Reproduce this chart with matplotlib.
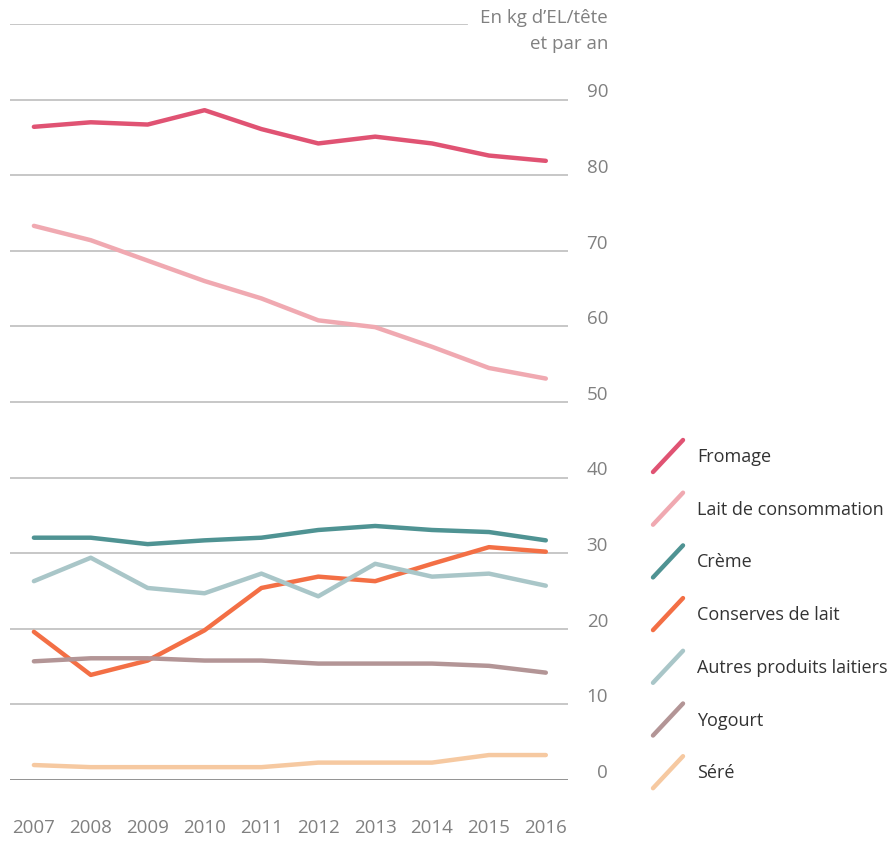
import numpy as np
import matplotlib
matplotlib.use('Agg')
from matplotlib import pyplot as plt
from matplotlib.lines import Line2D
from matplotlib.transforms import blended_transform_factory

years = np.arange(2007, 2017)
fromage = [86.4, 87.0, 86.7, 88.6, 86.1, 84.2, 85.1, 84.2, 82.6, 81.9]
lait = [73.3, 71.4, 68.7, 66.0, 63.7, 60.8, 59.9, 57.3, 54.5, 53.1]
creme = [32.05, 32.05, 31.2, 31.7, 32.05, 33.07, 33.6, 33.07, 32.8, 31.7]
conserves = [19.6, 13.9, 15.8, 19.8, 25.4, 26.9, 26.3, 28.6, 30.8, 30.2]
autres = [26.3, 29.4, 25.4, 24.7, 27.3, 24.3, 28.6, 26.9, 27.3, 25.7]
yogourt = [15.7, 16.1, 16.1, 15.8, 15.8, 15.4, 15.4, 15.4, 15.1, 14.2]
sere = [1.98, 1.7, 1.7, 1.7, 1.7, 2.3, 2.3, 2.3, 3.3, 3.3]

names = ['Fromage', 'Lait de consommation', 'Crème', 'Conserves de lait',
         'Autres produits laitiers', 'Yogourt', 'Séré']
series = [fromage, lait, creme, conserves, autres, yogourt, sere]
colors = ['#e05373', '#f0a9b1', '#4f9393', '#f36f45', '#a9c6c8', '#b39596', '#f6c9a1']
yticks = [0, 10, 20, 30, 40, 50, 60, 70, 80, 90]

plt.rcParams['font.family'] = ['Open Sans', 'DejaVu Sans']

W, H = 894, 841
fig = plt.figure(figsize=(W / 100, H / 100), dpi=100)
ax = fig.add_axes([10 / W, 1 - 780 / H, 558 / W, 756 / H])
ax.set_xlim(2006.58, 2016.39)
ax.set_ylim(0, 100)
for s in ax.spines.values():
    s.set_visible(False)
ax.set_xticks([])
ax.set_yticks([])

# gridlines
for t in yticks[1:]:
    ax.axhline(t, color='#c3c3c3', lw=1.3, zorder=0)
ax.axhline(0, color='#8a8a8a', lw=1.3, zorder=0)
ax.axhline(100, xmin=0, xmax=(467 - 10) / 558, color='#c3c3c3', lw=1.3, zorder=0)

for vals, c in zip(series, colors):
    ax.plot(years, vals, color=c, lw=3.2, solid_capstyle='round', solid_joinstyle='round')

gray = '#808080'
tr = blended_transform_factory(fig.transFigure, ax.transData)
for t in yticks:
    ax.text(608 / W, t + 0.95, str(t), transform=tr,
            ha='right', va='center', fontsize=13.5, color=gray)
for y in years:
    ax.text(y, -6.3, str(y), ha='center', va='center', fontsize=13.5, color=gray)

fig.text(608 / W, 1 - 18 / H, 'En kg d’EL/tête', ha='right', va='center', fontsize=13.5, color=gray)
fig.text(608 / W, 1 - 44 / H, 'et par an', ha='right', va='center', fontsize=13.5, color=gray)

# legend with slanted handles
for i, (n, c) in enumerate(zip(names, colors)):
    yc = 457 + i * 52.7
    fig.add_artist(Line2D([653 / W, 683 / W], [1 - (yc + 15) / H, 1 - (yc - 17) / H],
                          transform=fig.transFigure, color=c, lw=3.2, solid_capstyle='round'))
    fig.text(697 / W, 1 - yc / H, n, ha='left', va='center', fontsize=13, color='#333333')

fig.savefig('out.png', dpi=100)
